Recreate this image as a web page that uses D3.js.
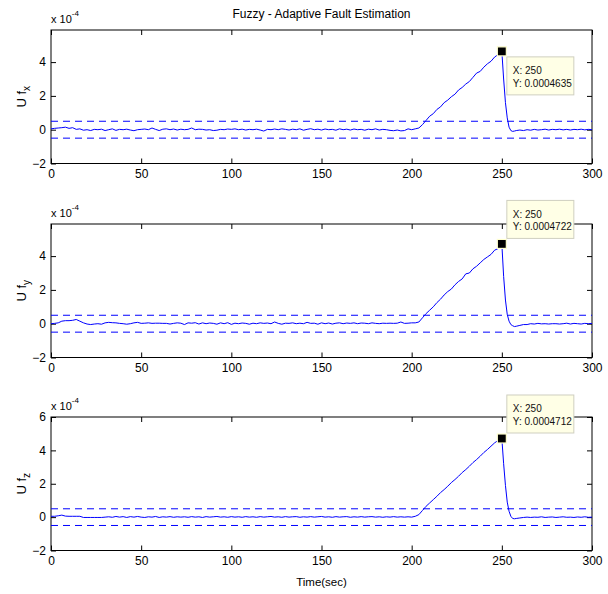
<!DOCTYPE html>
<html>
<head>
<meta charset="utf-8">
<script src="https://cdn.jsdelivr.net/npm/d3@7"></script>
<style>
  html, body { margin: 0; padding: 0; background: #fff; }
  svg { display: block; font-family: "Liberation Sans", Arial, Helvetica, sans-serif; }
</style>
</head>
<body>
<svg id="chart" width="608" height="594"></svg>
<script>
// ---- data (values in units of 1e-4) ----
const time = [].concat(d3.range(0, 249, 2), d3.range(249, 259, 1), d3.range(260, 301, 2));

const ufx = [
  0.05,0.08,0.10,0.12,0.15,0.08,0.12,0.02,0.05,-0.03,
  0.00,-0.05,0.02,0.00,0.03,-0.05,0.00,0.05,-0.04,0.02,
  0.00,0.03,-0.02,-0.06,0.00,0.02,0.04,0.00,0.10,0.02,
  -0.05,0.03,0.05,0.00,0.04,-0.02,0.03,0.00,0.02,0.10,
  0.00,0.03,0.02,-0.02,0.00,-0.05,-0.03,0.02,0.00,0.04,
  0.02,0.05,0.00,0.03,-0.02,0.02,0.00,0.03,-0.02,-0.08,
  0.02,0.00,0.04,0.00,0.05,0.02,-0.02,0.03,0.00,0.05,
  -0.03,0.02,0.06,0.00,0.03,-0.02,0.04,0.00,0.02,-0.03,
  0.05,0.00,0.03,-0.02,0.04,0.00,0.02,-0.03,0.03,0.00,
  0.05,-0.02,0.02,0.00,-0.04,-0.06,-0.02,-0.07,-0.05,0.05,
  0.00,0.05,0.10,0.30,0.55,0.80,0.95,1.20,1.35,1.60,
  1.75,1.95,2.10,2.35,2.50,2.70,2.85,3.10,3.35,3.45,
  3.70,3.90,4.05,4.30,4.45,
  4.55,4.635,3.00,1.60,0.70,0.15,-0.05,-0.10,-0.08,-0.05,
  -0.02,-0.05,0.00,-0.03,0.02,-0.02,0.00,0.03,-0.02,0.02,0.00,
  0.03,-0.01,0.02,-0.02,0.02,0.00,0.03,-0.01,0.02,0.00
];

const ufy = [
  0.00,0.02,0.05,0.15,0.18,0.18,0.20,0.25,0.15,0.05,
  -0.02,-0.05,-0.02,0.00,-0.03,0.05,0.08,0.06,0.05,0.02,
  0.00,-0.03,0.00,0.05,0.08,0.02,0.03,0.05,0.02,0.03,
  0.03,0.02,0.02,-0.02,0.02,0.05,0.03,-0.05,0.05,0.03,
  0.06,-0.02,0.05,0.00,0.04,0.02,-0.03,0.05,0.00,0.06,
  -0.04,0.03,0.00,0.04,0.02,-0.03,0.03,0.00,0.05,0.02,
  0.04,0.00,0.10,0.02,-0.03,0.03,0.02,0.05,0.00,0.03,
  0.00,0.08,0.02,0.03,-0.03,0.05,0.00,0.04,-0.02,0.03,
  0.05,0.00,0.04,0.02,0.05,0.00,0.04,0.03,0.00,0.05,
  0.02,0.00,0.03,0.02,0.03,0.02,0.03,0.10,0.02,0.03,
  0.05,0.05,0.10,0.35,0.60,0.80,1.00,1.25,1.45,1.70,
  1.90,2.05,2.30,2.50,2.65,2.95,3.00,3.25,3.40,3.60,
  3.80,3.95,4.10,4.35,4.45,
  4.60,4.722,2.80,1.40,0.55,0.15,-0.05,-0.12,-0.17,-0.15,
  -0.10,-0.05,-0.05,0.00,-0.02,0.02,-0.01,0.00,-0.02,0.00,0.00,
  -0.02,0.00,0.03,-0.02,0.02,0.00,-0.02,0.02,0.00,0.02
];

const ufz = [
  0.05,0.05,0.08,0.12,0.06,0.05,0.05,0.05,0.05,-0.02,
  -0.02,-0.02,-0.02,-0.02,-0.02,0.00,0.02,-0.01,0.04,0.00,
  0.03,-0.02,0.03,0.00,0.04,0.00,-0.02,0.02,0.00,0.04,
  -0.02,0.02,0.00,0.03,-0.01,0.02,0.00,0.02,-0.01,0.03,
  0.00,0.02,-0.02,0.03,0.00,0.02,0.04,0.00,0.02,-0.01,
  0.03,0.00,0.02,-0.01,0.03,0.00,0.02,-0.01,0.03,0.00,
  0.02,0.04,0.00,0.02,-0.01,0.03,0.00,0.02,0.03,-0.01,
  0.02,0.00,0.03,0.00,0.02,0.04,0.00,0.02,-0.01,0.03,
  0.00,0.02,0.03,-0.01,0.02,0.00,0.03,0.00,0.02,0.03,
  0.00,0.02,-0.01,0.02,0.00,0.03,0.00,0.02,0.00,0.02,
  0.00,0.05,0.15,0.40,0.65,0.85,1.05,1.25,1.47,1.65,
  1.85,2.07,2.25,2.45,2.67,2.85,3.05,3.27,3.45,3.65,
  3.87,4.05,4.25,4.45,4.60,
  4.65,4.712,3.20,1.90,0.90,0.35,0.05,-0.08,-0.10,-0.08,
  -0.05,-0.02,0.00,-0.02,0.00,-0.01,0.02,-0.02,0.00,0.01,-0.02,
  0.00,0.02,-0.01,0.00,-0.02,0.01,-0.01,0.02,-0.01,0.00
];

const seriesNames = ["x", "y", "z"];
const seriesValues = [ufx, ufy, ufz];
const thresholds = [0.5, -0.5];
const yMaxes = [5.9, 5.9, 6];
const yTicks = [[-2, 0, 2, 4], [-2, 0, 2, 4], [-2, 0, 2, 4, 6]];
const xTicks = [0, 50, 100, 150, 200, 250, 300];
const peakX = 250;
const peakLabels = ["0.0004635", "0.0004722", "0.0004712"];
const titleText = "Fuzzy - Adaptive Fault Estimation";
const xLabelText = "Time(sec)";

// ---- layout ----
const svg = d3.select("#chart");
const left = 51, right = 592;
const tops = [30, 224, 417];
const h = 133.5;
const tipBelow = [true, false, false];

const x = d3.scaleLinear().domain([0, 300]).range([left, right]);

svg.append("text")
  .attr("x", (left + right) / 2).attr("y", 18)
  .attr("text-anchor", "middle").attr("font-size", 12)
  .text(titleText);

seriesValues.forEach((vals, i) => {
  const top = tops[i], bottom = top + h;
  const y = d3.scaleLinear().domain([-2, yMaxes[i]]).range([bottom, top]);
  const g = svg.append("g");

  // frame
  g.append("rect").attr("x", left).attr("y", top)
    .attr("width", right - left).attr("height", h)
    .attr("fill", "none").attr("stroke", "#000").attr("stroke-width", 1);

  // axes (inward ticks)
  g.append("g").attr("transform", `translate(0,${bottom})`)
    .call(d3.axisBottom(x).tickValues(xTicks).tickSize(-5).tickPadding(6).tickFormat(d3.format("d")));
  g.append("g").attr("transform", `translate(${left},0)`)
    .call(d3.axisLeft(y).tickValues(yTicks[i]).tickSize(-5).tickPadding(5).tickFormat(d3.format("d")));
  g.append("g").attr("transform", `translate(0,${top})`)
    .call(d3.axisTop(x).tickValues(xTicks).tickSize(-5).tickFormat(""));
  g.append("g").attr("transform", `translate(${right},0)`)
    .call(d3.axisRight(y).tickValues(yTicks[i]).tickSize(-5).tickFormat(""));
  g.selectAll(".domain").remove();
  g.selectAll(".tick line").attr("stroke", "#000");
  g.selectAll(".tick text").attr("font-size", 12).attr("fill", "#000")
    .attr("font-family", "'Liberation Sans', Arial, Helvetica, sans-serif");

  // exponent label
  const ex = g.append("text").attr("x", left).attr("y", top - 7).attr("font-size", 11);
  ex.append("tspan").text("x 10");
  ex.append("tspan").attr("font-size", 8).attr("dy", -7).text("-4");

  // y label
  const yl = g.append("text")
    .attr("transform", `translate(26,${(top + bottom) / 2}) rotate(-90)`)
    .attr("text-anchor", "middle").attr("font-size", 13);
  yl.append("tspan").text("U f");
  yl.append("tspan").attr("font-size", 10).attr("dy", 4).text(seriesNames[i]);

  // threshold dashed lines
  g.selectAll(".thr").data(thresholds).enter().append("line")
    .attr("x1", left).attr("x2", right)
    .attr("y1", d => y(d)).attr("y2", d => y(d))
    .attr("stroke", "#0000ff").attr("stroke-width", 1)
    .attr("stroke-dasharray", "7,5");

  // signal
  const line = d3.line().x((d, k) => x(time[k])).y(d => y(d));
  g.append("path").datum(vals)
    .attr("d", line).attr("fill", "none")
    .attr("stroke", "#0000ff").attr("stroke-width", 1);

  // data tip
  const pk = time.indexOf(peakX);
  const mx = x(peakX), my = y(vals[pk]);
  const bx = mx + 5, by = tipBelow[i] ? my + 5.5 : my - 43.5;
  g.append("rect").attr("x", bx).attr("y", by).attr("width", 67).attr("height", 38)
    .attr("fill", "#ffffe6").attr("stroke", "#cfcfc0").attr("stroke-width", 1);
  g.append("text").attr("x", bx + 6).attr("y", by + 17.5).attr("font-size", 10)
    .attr("fill", "#111").text("X: " + peakX);
  g.append("text").attr("x", bx + 6).attr("y", by + 30).attr("font-size", 10)
    .attr("fill", "#111").text("Y: " + peakLabels[i]);
  g.append("rect").attr("x", mx - 4.5).attr("y", my - 4.5).attr("width", 9).attr("height", 9)
    .attr("fill", "#000").attr("stroke", "#ffffd0").attr("stroke-width", 1.2);
});

svg.append("text")
  .attr("x", (left + right) / 2).attr("y", 586)
  .attr("text-anchor", "middle").attr("font-size", 11.5)
  .text(xLabelText);
</script>
</body>
</html>
